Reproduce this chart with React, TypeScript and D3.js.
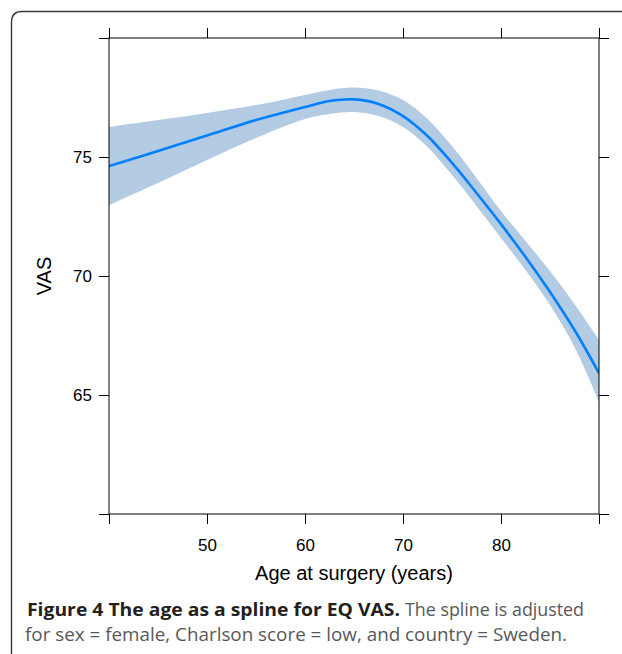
import React, { useRef, useEffect } from "react";
import * as d3 from "d3";

// age at surgery (years)
const ages = [40, 45, 50, 55, 60, 62.5, 65, 67.5, 70, 72.5, 75, 77.5, 80, 82.5, 85, 87.5, 90];
// fitted spline for EQ VAS
const fit = [74.62, 75.25, 75.9, 76.55, 77.1, 77.35, 77.42, 77.23, 76.72, 75.88, 74.75, 73.49, 72.18, 70.8, 69.33, 67.73, 65.92];
// confidence band
const upper = [76.26, 76.55, 76.85, 77.18, 77.61, 77.82, 77.92, 77.79, 77.39, 76.6, 75.46, 74.12, 72.73, 71.47, 70.21, 68.82, 67.31];
const lower = [72.98, 73.91, 74.87, 75.8, 76.6, 76.81, 76.89, 76.72, 76.26, 75.42, 74.24, 72.94, 71.6, 70.25, 68.78, 67.02, 64.71];

const xTicks = [40, 50, 60, 70, 80, 90];
const yTicks = [60, 65, 70, 75, 80];
const xLabelled = [50, 60, 70, 80];
const yLabelled = [65, 70, 75];

const W = 622;
const H = 654;

const App: React.FC = () => {
  const svgRef = useRef<SVGSVGElement>(null);

  useEffect(() => {
    if (!svgRef.current) return;
    const svg = d3.select(svgRef.current);
    svg.selectAll("*").remove();

    const margin = { top: 38, right: 23, bottom: 140, left: 109 };
    const x = d3.scaleLinear().domain([40, 90]).range([margin.left, W - margin.right]);
    const y = d3.scaleLinear().domain([60, 80]).range([H - margin.bottom, margin.top]);

    const font = "'Liberation Sans', Arial, sans-serif";

    // outer figure frame (rounded corner at top-left)
    svg
      .append("path")
      .attr("d", `M ${W + 5} 11.5 H 22 Q 11.5 11.5 11.5 22 V ${H + 5}`)
      .attr("fill", "none")
      .attr("stroke", "#3a3a3a")
      .attr("stroke-width", 1.4);

    const data = ages.map((a, i) => ({ a, f: fit[i], u: upper[i], l: lower[i] }));

    svg
      .append("clipPath")
      .attr("id", "plot-clip")
      .append("rect")
      .attr("x", x(40))
      .attr("y", y(80))
      .attr("width", x(90) - x(40))
      .attr("height", y(60) - y(80));

    const g = svg.append("g").attr("clip-path", "url(#plot-clip)");

    const curve = d3.curveCatmullRom.alpha(0.5);

    const area = d3
      .area<any>()
      .x((d) => x(d.a))
      .y0((d) => y(d.l))
      .y1((d) => y(d.u))
      .curve(curve);

    g.append("path").datum(data).attr("d", area).attr("fill", "#b3cbe3");

    const line = d3
      .line<any>()
      .x((d) => x(d.a))
      .y((d) => y(d.f))
      .curve(curve);

    g.append("path")
      .datum(data)
      .attr("d", line)
      .attr("fill", "none")
      .attr("stroke", "#0080ff")
      .attr("stroke-width", 2.6);

    // axes, lattice style: ticks outside on all four sides
    const fmtX = (d: any) => (xLabelled.includes(d) ? String(d) : "");
    const fmtY = (d: any) => (yLabelled.includes(d) ? String(d) : "");

    const bottom = svg
      .append("g")
      .attr("transform", `translate(0,${y(60)})`)
      .call(d3.axisBottom(x).tickValues(xTicks).tickSize(10).tickPadding(15).tickFormat(fmtX));
    const top = svg
      .append("g")
      .attr("transform", `translate(0,${y(80)})`)
      .call(d3.axisTop(x).tickValues(xTicks).tickSize(10).tickFormat(() => ""));
    const left = svg
      .append("g")
      .attr("transform", `translate(${x(40)},0)`)
      .call(d3.axisLeft(y).tickValues(yTicks).tickSize(10).tickPadding(7).tickFormat(fmtY));
    const right = svg
      .append("g")
      .attr("transform", `translate(${x(90)},0)`)
      .call(d3.axisRight(y).tickValues(yTicks).tickSize(10).tickFormat(() => ""));

    [bottom, top, left, right].forEach((ax) => {
      ax.select(".domain").remove();
      ax.selectAll("line").attr("stroke", "#000").attr("stroke-width", 1);
      ax.selectAll("text").attr("font-family", font).attr("font-size", 17).attr("fill", "#000");
    });

    // plot box
    svg
      .append("rect")
      .attr("x", x(40))
      .attr("y", y(80))
      .attr("width", x(90) - x(40))
      .attr("height", y(60) - y(80))
      .attr("fill", "none")
      .attr("stroke", "#000")
      .attr("stroke-width", 1);

    // axis titles
    svg
      .append("text")
      .attr("x", (x(40) + x(90)) / 2)
      .attr("y", 580)
      .attr("text-anchor", "middle")
      .attr("font-family", font)
      .attr("font-size", 20)
      .text("Age at surgery (years)");

    svg
      .append("text")
      .attr("transform", `translate(51,${(y(60) + y(80)) / 2}) rotate(-90)`)
      .attr("text-anchor", "middle")
      .attr("font-family", font)
      .attr("font-size", 20)
      .text("VAS");

    // caption
    const capFont = "'Open Sans', 'Noto Sans', sans-serif";
    svg
      .append("text")
      .attr("x", 27)
      .attr("y", 616)
      .attr("font-family", capFont)
      .attr("font-size", 18)
      .attr("font-weight", "bold")
      .attr("fill", "#231f20")
      .attr("textLength", 373)
      .attr("lengthAdjust", "spacingAndGlyphs")
      .text("Figure 4 The age as a spline for EQ VAS.");
    svg
      .append("text")
      .attr("x", 405)
      .attr("y", 616)
      .attr("font-family", capFont)
      .attr("font-size", 18)
      .attr("fill", "#58585b")
      .attr("textLength", 179)
      .attr("lengthAdjust", "spacingAndGlyphs")
      .text("The spline is adjusted");
    svg
      .append("text")
      .attr("x", 25)
      .attr("y", 641)
      .attr("font-family", capFont)
      .attr("font-size", 18)
      .attr("fill", "#58585b")
      .attr("textLength", 542)
      .attr("lengthAdjust", "spacingAndGlyphs")
      .text("for sex = female, Charlson score = low, and country = Sweden.");
  }, []);

  return (
    <svg
      ref={svgRef}
      width={W}
      height={H}
      style={{ position: "absolute", left: 0, top: 0, background: "#fff" }}
    ></svg>
  );
};

export default App;
